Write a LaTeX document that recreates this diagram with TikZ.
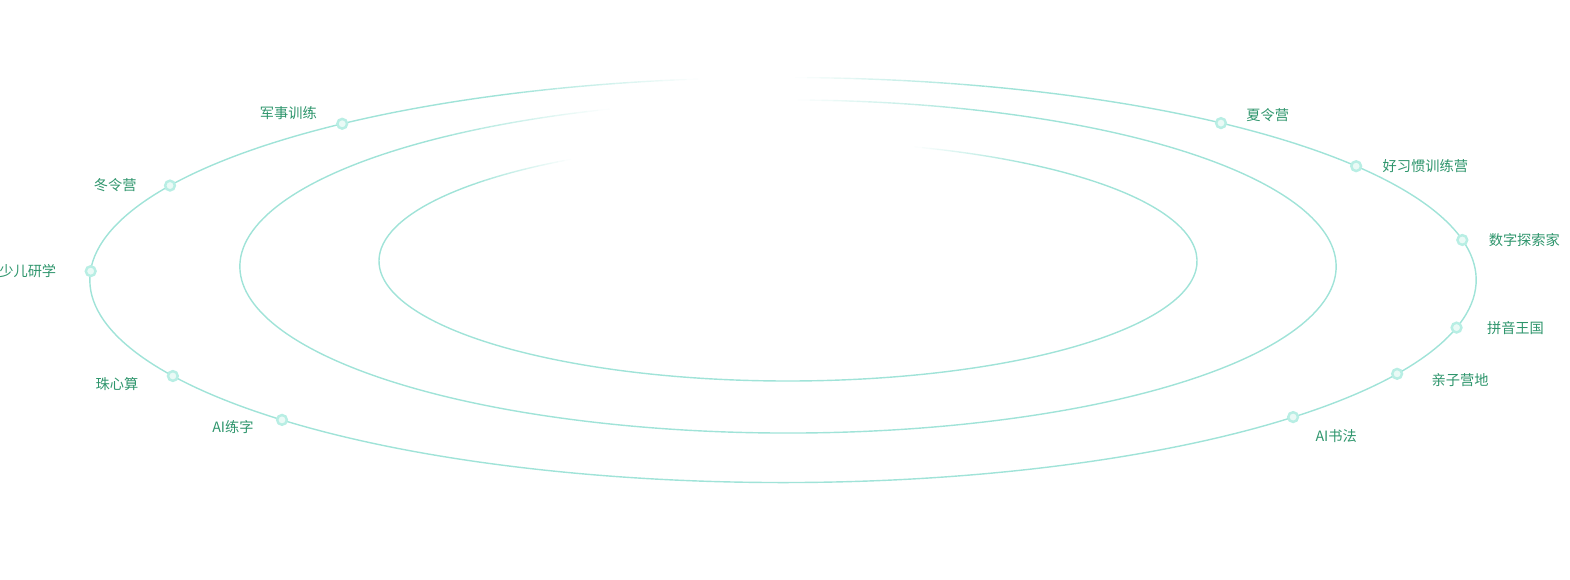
\documentclass[tikz,border=0pt]{standalone}
\usepackage{fontspec}
\setmainfont{Noto Sans CJK SC}
\usetikzlibrary{positioning}

\definecolor{ringline}{HTML}{A0E3D8}
\definecolor{dotline}{HTML}{B8EEE4}
\definecolor{dotfill}{HTML}{EAFAF6}
\definecolor{labeltext}{HTML}{2E956C}

% ring with a faded top: cx, cy, rx, ry, gap angle, half gap, fade width
\newcommand{\fadering}[7]{%
  \draw[ring] ({#1+#3*cos(#5+#6+#7)},{#2+#4*sin(#5+#6+#7)})
    arc[start angle=#5+#6+#7, end angle=#5-#6-#7+360, x radius=#3, y radius=#4];
  \foreach \k in {1,...,16}{
    \pgfmathsetmacro{\op}{(\k-0.5)/16}
    % right side of the gap
    \pgfmathsetmacro{\ta}{#5+#6+#7*(\k-1)/16}
    \draw[ring, draw opacity=\op] ({#1+#3*cos(\ta)},{#2+#4*sin(\ta)})
      arc[start angle=\ta, delta angle=#7/16, x radius=#3, y radius=#4];
    % left side of the gap
    \pgfmathsetmacro{\tb}{#5-#6-#7*\k/16}
    \draw[ring, draw opacity=\op] ({#1+#3*cos(\tb)},{#2+#4*sin(\tb)})
      arc[start angle=\tb, delta angle=#7/16, x radius=#3, y radius=#4];
  }%
}

\begin{document}
\begin{tikzpicture}[x=0.2mm, y=-0.2mm,
    ring/.style={draw=ringline, line width=0.8pt, line cap=butt},
    dot/.style={circle, draw=dotline, fill=dotfill, line width=1.4pt, minimum size=1.95mm, inner sep=0pt},
    camp/.style={text=labeltext, inner sep=0pt, font=\fontsize{8.1}{10}\selectfont}]

  \useasboundingbox (0,0) rectangle (1570,580);

  % the three rings
  \fadering{783}{280}{693}{202.5}{267}{4}{16}
  \fadering{788}{266.5}{548}{166.5}{261}{10}{20}
  \fadering{788}{261}{409}{120}{263}{25}{18}

  % dots on the outer ring
  \node[dot] (junshi)   at ({783+693*cos(230.5)},{280+202.5*sin(230.5)}) {};
  \node[dot] (dongling) at ({783+693*cos(207.8)},{280+202.5*sin(207.8)}) {};
  \node[dot] (yanxue)   at ({783+693*cos(182.5)},{280+202.5*sin(182.5)}) {};
  \node[dot] (zhuxin)   at ({783+693*cos(151.7)},{280+202.5*sin(151.7)}) {};
  \node[dot] (lianzi)   at ({783+693*cos(136.3)},{280+202.5*sin(136.3)}) {};
  \node[dot] (xialing)  at ({783+693*cos(309.2)},{280+202.5*sin(309.2)}) {};
  \node[dot] (xiguan)   at ({783+693*cos(325.8)},{280+202.5*sin(325.8)}) {};
  \node[dot] (shuzi)    at ({783+693*cos(348.6)},{280+202.5*sin(348.6)}) {};
  \node[dot] (pinyin)   at ({783+693*cos(13.6)},{280+202.5*sin(13.6)}) {};
  \node[dot] (qinzi)    at ({783+693*cos(27.6)},{280+202.5*sin(27.6)}) {};
  \node[dot] (shufa)    at ({783+693*cos(42.6)},{280+202.5*sin(42.6)}) {};

  % left labels
  \node[camp, left=3.8mm of junshi, yshift=2.2mm] (l-junshi) {军事训练};
  \node[camp, left=5.4mm of dongling] (l-dongling) {冬令营};
  \node[camp, left=5.6mm of yanxue] (l-yanxue) {少儿研学};
  \node[camp, left=5.6mm of zhuxin, yshift=-1.6mm] (l-zhuxin) {珠心算};
  \node[camp, left=4.4mm of lianzi, yshift=-1.4mm] (l-lianzi) {AI练字};

  % right labels
  \node[camp, right=3.8mm of xialing, yshift=1.6mm] (l-xialing) {夏令营};
  \node[camp, right=4mm of xiguan] (l-xiguan) {好习惯训练营};
  \node[camp, right=4mm of shuzi] (l-shuzi) {数字探索家};
  \node[camp, right=4.8mm of pinyin] (l-pinyin) {拼音王国};
  \node[camp, right=5.6mm of qinzi, yshift=-1.2mm] (l-qinzi) {亲子营地};
  \node[camp, right=3.2mm of shufa, yshift=-3.8mm] (l-shufa) {AI书法};

\end{tikzpicture}
\end{document}
